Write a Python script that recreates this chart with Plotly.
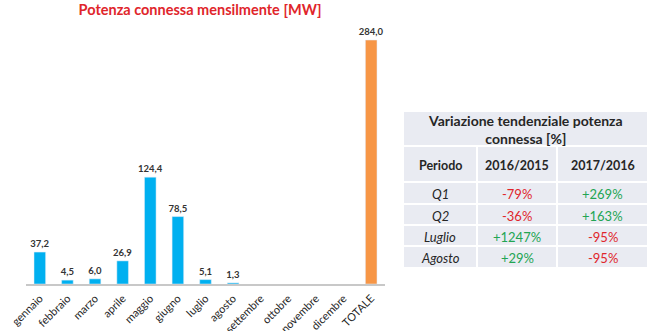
import plotly.graph_objects as go

months = ["gennaio", "febbraio", "marzo", "aprile", "maggio", "giugno", "luglio",
          "agosto", "settembre", "ottobre", "novembre", "dicembre", "TOTALE"]
values = [37.2, 4.5, 6.0, 26.9, 124.4, 78.5, 5.1, 1.3, None, None, None, None, 284.0]
bar_colors = ["#00B0F0"] * 12 + ["#F79646"]

table_title = "Variazione tendenziale potenza<br>connessa [%]"
table_header = ["Periodo", "2016/2015", "2017/2016"]
periods = ["Q1", "Q2", "Luglio", "Agosto"]
var_2016 = ["-79%", "-36%", "+1247%", "+29%"]
var_2017 = ["+269%", "+163%", "-95%", "-95%"]

RED = "#E0252B"
GREEN = "#22A552"
CELL_BG = "#E9EBF2"
TXT = "#262626"

W, H = 650, 331
fig = go.Figure()
fig.add_trace(go.Bar(
    x=months, y=values, marker_color=bar_colors, width=0.42,
    texttemplate="<b>%{y:.1f}</b>", textposition="outside", textangle=0,
    constraintext="none",
    textfont=dict(size=9.5, color="#333333", family="Lato"),
    cliponaxis=False, showlegend=False,
))

# ---- table drawn with shapes + annotations (pixel layout) ----
col_edges = [403, 477, 557, 648]
title_rows = (111, 146)
header_rows = (146, 182)
row_edges = [182, 204, 225, 246, 268]

def px(x):
    return x / W

def py(y):
    return (H - y) / H

def cell(x0, x1, y0, y1):
    fig.add_shape(type="rect", xref="paper", yref="paper",
                  x0=px(x0), x1=px(x1), y0=py(y1), y1=py(y0),
                  fillcolor=CELL_BG, line=dict(color="white", width=2), layer="below")

def text(x, y, s, color=TXT, size=12.5):
    fig.add_annotation(xref="paper", yref="paper", x=px(x), y=py(y), text=s,
                       showarrow=False, font=dict(family="Lato", size=size, color=color),
                       xanchor="center", yanchor="middle", align="center")

cell(col_edges[0], col_edges[-1], *title_rows)
text((col_edges[0] + col_edges[-1]) / 2, (title_rows[0] + title_rows[1]) / 2 + 1,
     "<b>" + table_title + "</b>", size=14)

for j, h in enumerate(table_header):
    cell(col_edges[j], col_edges[j + 1], *header_rows)
    text((col_edges[j] + col_edges[j + 1]) / 2, (header_rows[0] + header_rows[1]) / 2 + 1,
         "<b>%s</b>" % h, size=12.5)

columns = [periods, var_2016, var_2017]
for j, col in enumerate(columns):
    for i, v in enumerate(col):
        y0, y1 = row_edges[i], row_edges[i + 1]
        cell(col_edges[j], col_edges[j + 1], y0, y1)
        if j == 0:
            s, c = "<i>%s</i>" % v, TXT
        else:
            s, c = v, (RED if v.startswith("-") else GREEN)
        text((col_edges[j] + col_edges[j + 1]) / 2, (y0 + y1) / 2 + 1, s, color=c, size=13)

fig.update_layout(
    width=W, height=H, margin=dict(l=0, r=0, t=0, b=0),
    paper_bgcolor="white", plot_bgcolor="white",
    separators=",.",
    font=dict(family="Lato"),
    title=dict(text="<b>Potenza connessa mensilmente [MW]</b>",
               font=dict(family="Lato", size=14.5, color=RED),
               x=200 / W, xanchor="center", y=1 - 10 / H, yanchor="middle"),
    xaxis=dict(domain=[26 / W, 385 / W], tickangle=-45, showgrid=False,
               showline=True, linecolor="#C8C8C8", linewidth=1.5, ticks="",
               tickfont=dict(family="Lato", size=11, color="#262626"),
               ticklabelstandoff=2,
               automargin=False),
    yaxis=dict(domain=[(H - 284) / H, (H - 30) / H], range=[0, 295.7],
               visible=False, automargin=False),
    bargap=0.58,
)

fig.write_html("out.html")
